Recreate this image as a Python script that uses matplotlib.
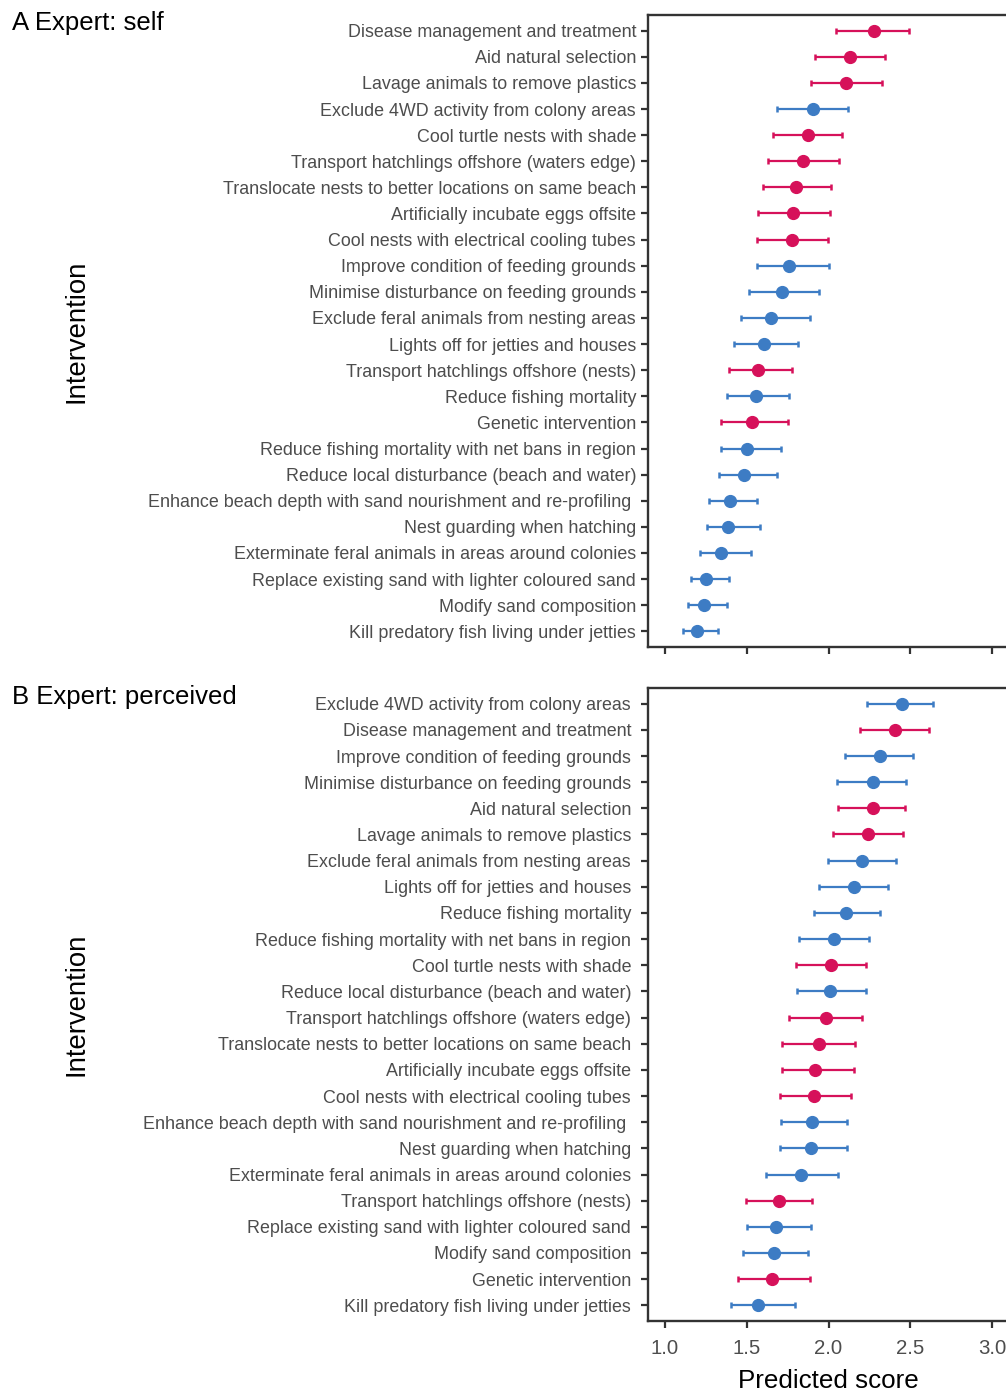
import matplotlib
matplotlib.use('Agg')
import matplotlib.pyplot as plt

plt.rcParams['font.family'] = ['Liberation Sans', 'DejaVu Sans']

# interventions drawn in the red colour (the rest are blue)
red_interventions = [
    'Disease management and treatment',
    'Aid natural selection',
    'Lavage animals to remove plastics',
    'Cool turtle nests with shade',
    'Transport hatchlings offshore (waters edge)',
    'Translocate nests to better locations on same beach',
    'Artificially incubate eggs offsite',
    'Cool nests with electrical cooling tubes',
    'Transport hatchlings offshore (nests)',
    'Genetic intervention',
]

# Panel A: Expert: self (top to bottom)
self_labels = [
    'Disease management and treatment',
    'Aid natural selection',
    'Lavage animals to remove plastics',
    'Exclude 4WD activity from colony areas',
    'Cool turtle nests with shade',
    'Transport hatchlings offshore (waters edge)',
    'Translocate nests to better locations on same beach',
    'Artificially incubate eggs offsite',
    'Cool nests with electrical cooling tubes',
    'Improve condition of feeding grounds',
    'Minimise disturbance on feeding grounds',
    'Exclude feral animals from nesting areas',
    'Lights off for jetties and houses',
    'Transport hatchlings offshore (nests)',
    'Reduce fishing mortality',
    'Genetic intervention',
    'Reduce fishing mortality with net bans in region',
    'Reduce local disturbance (beach and water)',
    'Enhance beach depth with sand nourishment and re-profiling ',
    'Nest guarding when hatching',
    'Exterminate feral animals in areas around colonies',
    'Replace existing sand with lighter coloured sand',
    'Modify sand composition',
    'Kill predatory fish living under jetties',
]
self_score = [2.280, 2.131, 2.107, 1.907, 1.876, 1.844, 1.801, 1.781, 1.775, 1.758,
              1.717, 1.646, 1.606, 1.571, 1.557, 1.532, 1.500, 1.483, 1.398, 1.387,
              1.344, 1.251, 1.240, 1.196]
self_lower = [2.044, 1.917, 1.893, 1.683, 1.662, 1.632, 1.598, 1.571, 1.565, 1.563,
              1.512, 1.463, 1.424, 1.390, 1.381, 1.344, 1.344, 1.330, 1.267, 1.259,
              1.216, 1.159, 1.143, 1.112]
self_upper = [2.494, 2.344, 2.327, 2.121, 2.083, 2.062, 2.017, 2.011, 1.995, 2.005,
              1.940, 1.889, 1.813, 1.775, 1.757, 1.750, 1.711, 1.683, 1.563, 1.579,
              1.526, 1.393, 1.381, 1.326]

# Panel B: Expert: perceived (top to bottom)
perc_labels = [
    'Exclude 4WD activity from colony areas',
    'Disease management and treatment',
    'Improve condition of feeding grounds',
    'Minimise disturbance on feeding grounds',
    'Aid natural selection',
    'Lavage animals to remove plastics',
    'Exclude feral animals from nesting areas',
    'Lights off for jetties and houses',
    'Reduce fishing mortality',
    'Reduce fishing mortality with net bans in region',
    'Cool turtle nests with shade',
    'Reduce local disturbance (beach and water)',
    'Transport hatchlings offshore (waters edge)',
    'Translocate nests to better locations on same beach',
    'Artificially incubate eggs offsite',
    'Cool nests with electrical cooling tubes',
    'Enhance beach depth with sand nourishment and re-profiling ',
    'Nest guarding when hatching',
    'Exterminate feral animals in areas around colonies',
    'Transport hatchlings offshore (nests)',
    'Replace existing sand with lighter coloured sand',
    'Modify sand composition',
    'Genetic intervention',
    'Kill predatory fish living under jetties',
]
perc_score = [2.451, 2.407, 2.315, 2.270, 2.270, 2.242, 2.205, 2.156, 2.105, 2.034,
              2.013, 2.009, 1.983, 1.942, 1.917, 1.911, 1.901, 1.893, 1.834, 1.697,
              1.679, 1.667, 1.656, 1.571]
perc_lower = [2.237, 2.194, 2.101, 2.054, 2.060, 2.029, 1.995, 1.940, 1.911, 1.821,
              1.799, 1.807, 1.758, 1.717, 1.717, 1.703, 1.708, 1.702, 1.620, 1.495,
              1.500, 1.477, 1.445, 1.404]
perc_upper = [2.637, 2.617, 2.519, 2.474, 2.468, 2.454, 2.411, 2.364, 2.315, 2.246,
              2.229, 2.231, 2.205, 2.160, 2.154, 2.138, 2.115, 2.115, 2.058, 1.901,
              1.893, 1.875, 1.889, 1.795]

x_ticks = [1.0, 1.5, 2.0, 2.5, 3.0]

RED = '#d6115a'
BLUE = '#3d7cc4'
SPINE = '#333333'
W, H = 1006, 1393


def draw_panel(ax, labels, score, lower, upper, label_pad, show_xlabels):
    for i, name in enumerate(labels):
        col = RED if name.strip() in red_interventions else BLUE
        y = i + 1
        ax.errorbar(score[i], y,
                    xerr=[[score[i] - lower[i]], [upper[i] - score[i]]],
                    fmt='o', color=col, ms=8.5, elinewidth=1.6,
                    capsize=2.4, capthick=1.8, zorder=3)
    ax.set_yticks(range(1, len(labels) + 1))
    ax.set_yticklabels(labels)
    ax.set_ylim(len(labels) + 0.6, 0.4)
    ax.set_xlim(0.896, 3.104)
    ax.set_xticks(x_ticks)
    if show_xlabels:
        ax.set_xticklabels(['%.1f' % t for t in x_ticks])
    else:
        ax.set_xticklabels([])
    for s in ax.spines.values():
        s.set_color(SPINE)
        s.set_linewidth(1.7)
    ax.tick_params(axis='y', length=5, width=1.6, color=SPINE,
                   labelsize=12.9, labelcolor='#4d4d4d', pad=label_pad)
    ax.tick_params(axis='x', length=5, width=1.6, color=SPINE,
                   labelsize=14.7, labelcolor='#4d4d4d', pad=8)


fig = plt.figure(figsize=(W / 100, H / 100), dpi=100)

ax_a = fig.add_axes([648 / W, 1 - 647 / H, (1009 - 648) / W, (647 - 15) / H])
draw_panel(ax_a, self_labels, self_score, self_lower, self_upper, 3.6, False)

ax_b = fig.add_axes([648 / W, 1 - 1321 / H, (1009 - 648) / W, (1321 - 688) / H])
draw_panel(ax_b, perc_labels, perc_score, perc_lower, perc_upper, 7.2, True)

# panel titles
fig.text(12 / W, 1 - 30 / H, 'A Expert: self', fontsize=18.5, va='baseline', ha='left')
fig.text(12 / W, 1 - 704 / H, 'B Expert: perceived', fontsize=18.5, va='baseline', ha='left')

# axis titles
fig.text(77 / W, 1 - 331 / H, 'Intervention', rotation=90, fontsize=19.8,
         ha='center', va='center')
fig.text(77 / W, 1 - 1004 / H, 'Intervention', rotation=90, fontsize=19.8,
         ha='center', va='center')
fig.text(828 / W, 1 - 1388 / H, 'Predicted score', fontsize=18.7,
         ha='center', va='baseline')

fig.savefig('out.png', dpi=100)
